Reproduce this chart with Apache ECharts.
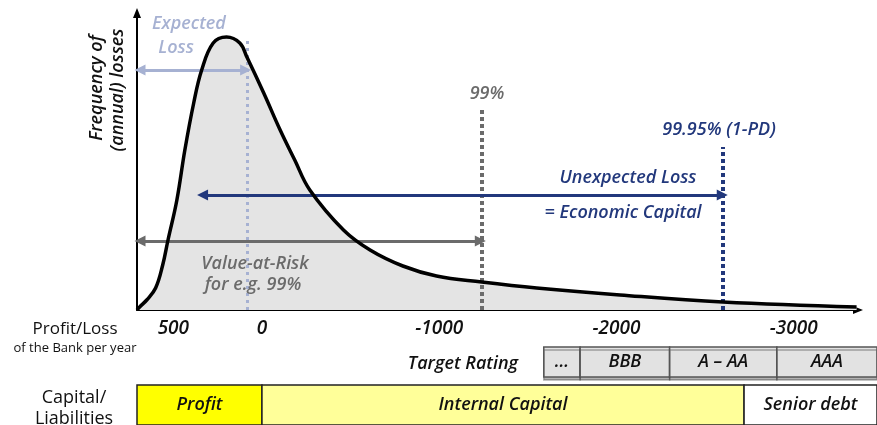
<!DOCTYPE html>
<html><head><meta charset="utf-8">
<script src="https://cdn.jsdelivr.net/npm/echarts@6/dist/echarts.min.js"></script>
<style>html,body{margin:0;padding:0;background:#fff}#c{width:877px;height:425px}</style>
</head><body><div id="c"></div>
<script>
// ---- data (loss units: positive = loss, axis labels show Profit/Loss = -loss) ----
const tickLabels = [500, 0, -1000, -2000, -3000];
const curveLoss = [-705,-690,-650,-600,-560,-530,-480,-435,-385,-340,-275,-200,-125,-85,10,100,185,270,460,610,795,985,1240,1550,2020,2600,3355];
const curveFreq = [0,3,10,22,45,70,110,160,207,240,267,273,267,253,217,181,150,120,80,60,44,34,28,22,15,8,3];
const markerLoss = [-85, 1240, 2600];          // Expected loss, 99%, 99.95%
const markerTop = [273, 201, 163];
const elArrow = [-688, -92, 240];              // from, to, level
const ulArrow = [-335, 2597, 115];
const varArrow = [-688, 1232, 69];
const ratingNames = ['...', 'BBB', 'A \u2013 AA', 'AAA'];
const ratingBounds = [1590, 1795, 2300, 2905, 3470];
const capitalNames = ['Profit', 'Internal Capital', 'Senior debt'];
const capitalBounds = [-705, 0, 2720, 3470];

// ---- styles ----
const FONT = '"Open Sans"';
const IT = 'italic 600 ';
const NAVY = '#22387c', GREY = '#6b6b6b', EL = '#a6b1d2';
const capitalFill = ['#ffff00', '#ffff99', '#ffffff'];

const chart = echarts.init(document.getElementById('c'), null, {renderer: 'canvas'});

function vline(x, top, color, width, dash) {
  return [{coord: [x, 0], symbol: 'none', lineStyle: {color, width, type: dash, cap: 'butt'}},
          {coord: [x, top], symbol: 'none'}];
}
function harrow(a, color, width) {
  return [{coord: [a[0], a[2]], symbol: 'triangle', symbolSize: [11, 11], lineStyle: {color, width, type: 'solid'}, itemStyle: {color}},
          {coord: [a[1], a[2]], symbol: 'triangle', symbolSize: [11, 11], itemStyle: {color}}];
}

function cellRenderer(names, fills, stroke, textColor, shadow) {
  return function (params, api) {
    const a = api.coord([api.value(0), 1]);
    const b = api.coord([api.value(1), 0]);
    const i = params.dataIndex;
    const style = {fill: fills[i], stroke: stroke, lineWidth: 1.5};
    if (shadow) Object.assign(style, {shadowColor: 'rgba(0,0,0,0.3)', shadowOffsetY: 3, shadowBlur: 0});
    return {
      type: 'rect',
      shape: {x: a[0], y: a[1], width: b[0] - a[0], height: b[1] - a[1]},
      style,
      textContent: {style: {text: names[i], fill: textColor, font: IT + '18px ' + FONT}},
      textConfig: {position: 'inside'}
    };
  };
}

const rateData = ratingNames.map((n, i) => [ratingBounds[i], ratingBounds[i + 1]]);
const capData = capitalNames.map((n, i) => [capitalBounds[i], capitalBounds[i + 1]]);
const curveData = curveLoss.map((x, i) => [x, curveFreq[i]]);

function txt(x, y, text, color, font, rotation) {
  const o = {type: 'text', x, y, silent: true, z: 100,
    style: {text, fill: color, font, textAlign: 'center', textVerticalAlign: 'middle'}};
  if (rotation !== undefined) o.rotation = rotation;
  return o;
}
const A = IT + '18px ' + FONT;

chart.setOption({
  animation: false,
  backgroundColor: '#fff',
  grid: [
    {left: 137, right: 19, top: 13, bottom: 115},
    {left: 137, right: 0, top: 347, height: 30},
    {left: 137, right: 0, top: 385, height: 45}
  ],
  xAxis: [
    {type: 'value', gridIndex: 0, min: -705, max: 3363,
     axisLine: {show: true, onZero: false, symbol: ['none', 'triangle'], symbolSize: [8, 10], lineStyle: {color: '#000', width: 2}},
     axisTick: {show: false}, splitLine: {show: false},
     axisLabel: {customValues: tickLabels.map(v => -v), formatter: v => String(v === 0 ? 0 : -v),
                 fontStyle: 'italic', fontWeight: 600, fontSize: 19, fontFamily: 'Open Sans', color: '#111', margin: 9}},
    {type: 'value', gridIndex: 1, min: -705, max: 3470, show: false},
    {type: 'value', gridIndex: 2, min: -705, max: 3470, show: false}
  ],
  yAxis: [
    {type: 'value', gridIndex: 0, min: 0, max: 297,
     axisLine: {show: true, onZero: false, symbol: ['none', 'triangle'], symbolSize: [8, 10], lineStyle: {color: '#000', width: 2}},
     axisTick: {show: false}, axisLabel: {show: false}, splitLine: {show: false}},
    {type: 'value', gridIndex: 1, min: 0, max: 1, show: false},
    {type: 'value', gridIndex: 2, min: 0, max: 1, show: false}
  ],
  series: [
    {type: 'line', xAxisIndex: 0, yAxisIndex: 0, smooth: 0.4, symbol: 'none', data: curveData,
     lineStyle: {width: 0, color: 'transparent'}, areaStyle: {color: '#e4e4e4', opacity: 1}, z: 1,
     markLine: {silent: true, animation: false, label: {show: false},
       data: [
         vline(markerLoss[0], markerTop[0], EL, 3, [3, 4]),
         vline(markerLoss[1], markerTop[1], GREY, 4, [4, 3]),
         vline(markerLoss[2], markerTop[2], NAVY, 4, [4, 3]),
         harrow(elArrow, EL, 3),
         harrow(ulArrow, NAVY, 3),
         harrow(varArrow, GREY, 3)
       ]}},
    {type: 'line', xAxisIndex: 0, yAxisIndex: 0, smooth: 0.4, symbol: 'none', data: curveData,
     lineStyle: {color: '#000', width: 3.5}, z: 10},
    {type: 'custom', xAxisIndex: 1, yAxisIndex: 1, data: rateData, clip: false,
     renderItem: cellRenderer(ratingNames, ['#e2e2e2', '#e2e2e2', '#e2e2e2', '#e2e2e2'], '#555', '#111', true)},
    {type: 'custom', xAxisIndex: 2, yAxisIndex: 2, data: capData, clip: false,
     renderItem: cellRenderer(capitalNames, capitalFill, '#222', '#111', false)}
  ],
  graphic: [
    txt(97, 88, 'Frequency of', '#111', A, Math.PI / 2),
    txt(118, 90, '(annual) losses', '#111', A, Math.PI / 2),
    txt(189, 24, 'Expected', EL, A),
    txt(176, 48, 'Loss', EL, A),
    txt(487, 94, '99%', GREY, A),
    txt(719, 130, '99.95% (1-PD)', NAVY, A),
    txt(628, 178, 'Unexpected Loss', NAVY, A),
    txt(623, 213, '= Economic Capital', NAVY, A),
    txt(255, 264, 'Value-at-Risk', GREY, A),
    txt(253, 285, 'for e.g. 99%', GREY, A),
    txt(75, 329, 'Profit/Loss', '#111', '500 17px ' + FONT),
    txt(75, 348, 'of the Bank per year', '#111', '500 13px ' + FONT),
    txt(463, 364, 'Target Rating', '#111', A),
    txt(74, 398, 'Capital/', '#111', '500 18px ' + FONT),
    txt(74, 419, 'Liabilities', '#111', '500 18px ' + FONT)
  ]
});
</script></body></html>
